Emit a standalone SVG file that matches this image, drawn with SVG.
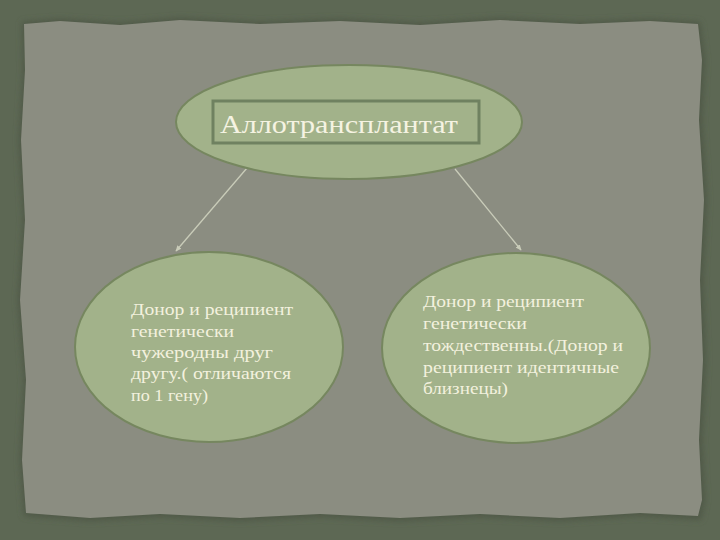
<svg xmlns="http://www.w3.org/2000/svg" width="720" height="540" viewBox="0 0 720 540">
<defs>
<style>
.node{fill:#a2b28a;stroke:#76875f;stroke-width:2}
.lbl{font-family:"Liberation Serif","DejaVu Serif",serif;fill:#f3f1de;font-size:17.5px}
.title{font-family:"Liberation Serif","DejaVu Serif",serif;fill:#f5f3e2;font-size:25px}
.conn{stroke:#c9ccb9;stroke-width:1.3;fill:none}
</style>
<marker id="arr" viewBox="0 0 10 10" refX="8" refY="5" markerWidth="5" markerHeight="5" orient="auto">
<path d="M0,1 L9,5 L0,9 z" fill="#c9ccb9"/>
</marker>
<filter id="blur" x="-5%" y="-5%" width="110%" height="110%"><feGaussianBlur stdDeviation="3"/></filter>
</defs>
<rect x="0" y="0" width="720" height="540" fill="#5d6854"/>
<path d="M22,22 L60,19 L120,23 L180,18 L260,22 L340,19 L420,23 L500,18 L580,22 L650,19 L700,22 L705,60 L702,120 L707,200 L703,280 L706,360 L702,440 L705,500 L701,520 L640,516 L560,521 L480,517 L400,521 L320,517 L240,521 L160,517 L90,521 L24,516 L20,460 L24,380 L18,300 L23,220 L19,140 L23,70 Z" fill="#4f5947" filter="url(#blur)"/>
<path d="M24,24 L60,21 L120,25 L180,20 L260,24 L340,21 L420,25 L500,20 L580,24 L650,21 L698,24 L702,60 L699,120 L704,200 L700,280 L703,360 L699,440 L702,500 L698,516 L640,513 L560,518 L480,514 L400,518 L320,514 L240,518 L160,514 L90,518 L26,513 L22,460 L26,380 L20,300 L25,220 L21,140 L25,70 Z" fill="#8b8d81"/>
<g id="connectors">
<line class="conn" x1="247" y1="168" x2="176" y2="251" marker-end="url(#arr)"/>
<line class="conn" x1="455" y1="169" x2="521" y2="250" marker-end="url(#arr)"/>
</g>
<g id="node-top">
<ellipse class="node" cx="349" cy="122" rx="173" ry="57"/>
<rect x="213" y="101" width="266" height="42" fill="#a2b28a" stroke="#6f8160" stroke-width="3"/>
<text class="title" x="220" y="133" textLength="238" lengthAdjust="spacingAndGlyphs">Аллотрансплантат</text>
</g>
<g id="node-left">
<ellipse class="node" cx="209" cy="347" rx="134" ry="95"/>
<text class="lbl">
<tspan x="131" y="315" textLength="162" lengthAdjust="spacingAndGlyphs">Донор и реципиент</tspan>
<tspan x="131" y="337" textLength="103" lengthAdjust="spacingAndGlyphs">генетически</tspan>
<tspan x="131" y="358" textLength="142" lengthAdjust="spacingAndGlyphs">чужеродны друг</tspan>
<tspan x="131" y="379" textLength="160" lengthAdjust="spacingAndGlyphs">другу.( отличаются</tspan>
<tspan x="131" y="401" textLength="77" lengthAdjust="spacingAndGlyphs">по 1 гену)</tspan>
</text>
</g>
<g id="node-right">
<ellipse class="node" cx="516" cy="348" rx="134" ry="95"/>
<text class="lbl">
<tspan x="423" y="307" textLength="161" lengthAdjust="spacingAndGlyphs">Донор и реципиент</tspan>
<tspan x="423" y="329" textLength="104" lengthAdjust="spacingAndGlyphs">генетически</tspan>
<tspan x="423" y="351" textLength="200" lengthAdjust="spacingAndGlyphs">тождественны.(Донор и</tspan>
<tspan x="423" y="373" textLength="196" lengthAdjust="spacingAndGlyphs">реципиент идентичные</tspan>
<tspan x="423" y="394" textLength="85" lengthAdjust="spacingAndGlyphs">близнецы)</tspan>
</text>
</g>
</svg>
